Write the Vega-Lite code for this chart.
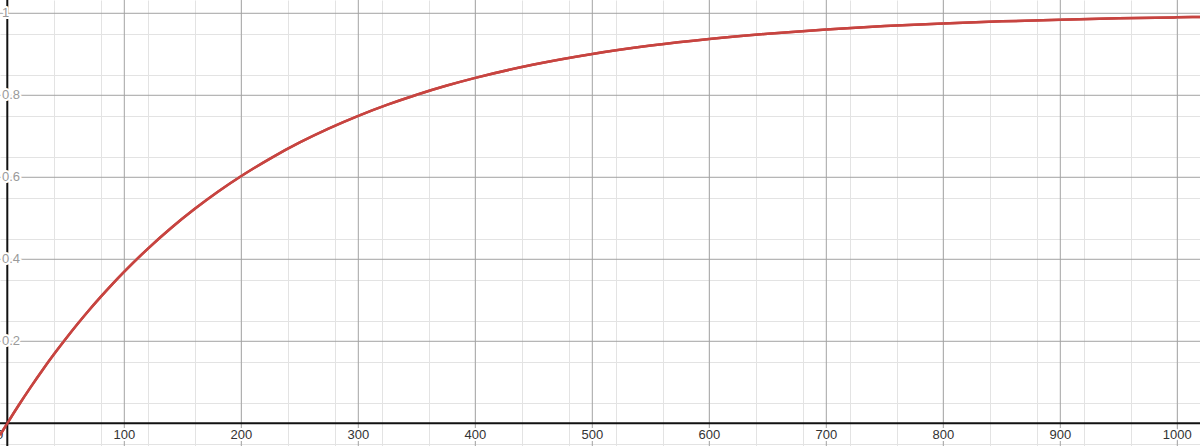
{
  "$schema": "https://vega.github.io/schema/vega-lite/v6.json",
  "width": 1200,
  "height": 446,
  "padding": 0,
  "autosize": {"type": "none"},
  "background": "white",
  "view": {"stroke": null},
  "datasets": {
    "curve": [
      {"x": -6.2, "y": -0.029},
      {"x": 0, "y": 0},
      {"x": 10, "y": 0.0451},
      {"x": 20, "y": 0.0882},
      {"x": 30, "y": 0.1294},
      {"x": 40, "y": 0.1687},
      {"x": 50, "y": 0.2062},
      {"x": 60, "y": 0.2421},
      {"x": 70, "y": 0.2763},
      {"x": 80, "y": 0.3089},
      {"x": 90, "y": 0.3401},
      {"x": 100, "y": 0.3699},
      {"x": 120, "y": 0.4255},
      {"x": 140, "y": 0.4762},
      {"x": 160, "y": 0.5224},
      {"x": 180, "y": 0.5646},
      {"x": 200, "y": 0.603},
      {"x": 225, "y": 0.6463},
      {"x": 250, "y": 0.6849},
      {"x": 275, "y": 0.7192},
      {"x": 300, "y": 0.7498},
      {"x": 325, "y": 0.7771},
      {"x": 350, "y": 0.8014},
      {"x": 375, "y": 0.8231},
      {"x": 400, "y": 0.8424},
      {"x": 450, "y": 0.8749},
      {"x": 500, "y": 0.9007},
      {"x": 550, "y": 0.9212},
      {"x": 600, "y": 0.9374},
      {"x": 650, "y": 0.9503},
      {"x": 700, "y": 0.9606},
      {"x": 750, "y": 0.9687},
      {"x": 800, "y": 0.9752},
      {"x": 850, "y": 0.9803},
      {"x": 900, "y": 0.9843},
      {"x": 950, "y": 0.9876},
      {"x": 1000, "y": 0.9901},
      {"x": 1020, "y": 0.991}
    ],
    "xmajor": [
      {"v": 100}, {"v": 200}, {"v": 300}, {"v": 400}, {"v": 500},
      {"v": 600}, {"v": 700}, {"v": 800}, {"v": 900}, {"v": 1000}
    ],
    "ymajor": [
      {"v": 0.2}, {"v": 0.4}, {"v": 0.6}, {"v": 0.8}, {"v": 1}
    ],
    "origin": [{"v": 0}]
  },
  "layer": [
    {
      "data": {"name": "curve"},
      "mark": {"type": "line", "color": "#c74440", "strokeWidth": 2.5, "clip": true, "interpolate": "monotone"},
      "encoding": {
        "x": {
          "field": "x",
          "type": "quantitative",
          "scale": {"domain": [-6.24, 1019.4], "nice": false, "zero": false},
          "axis": {
            "values": [0, 20, 40, 60, 80, 100, 120, 140, 160, 180, 200, 220, 240, 260, 280, 300, 320, 340, 360, 380, 400, 420, 440, 460, 480, 500, 520, 540, 560, 580, 600, 620, 640, 660, 680, 700, 720, 740, 760, 780, 800, 820, 840, 860, 880, 900, 920, 940, 960, 980, 1000],
            "grid": true,
            "labels": false,
            "ticks": false,
            "domain": false,
            "title": null,
            "gridOpacity": 1,
            "gridColor": "#e3e3e3"
          }
        },
        "y": {
          "field": "y",
          "type": "quantitative",
          "scale": {"domain": [-0.0554, 1.0324], "nice": false, "zero": false},
          "axis": {
            "values": [-0.05, 0, 0.05, 0.1, 0.15, 0.2, 0.25, 0.3, 0.35, 0.4, 0.45, 0.5, 0.55, 0.6, 0.65, 0.7, 0.75, 0.8, 0.85, 0.9, 0.95, 1],
            "grid": true,
            "labels": false,
            "ticks": false,
            "domain": false,
            "title": null,
            "gridOpacity": 1,
            "gridColor": "#e3e3e3"
          }
        }
      }
    },
    {
      "data": {"name": "xmajor"},
      "mark": {"type": "rule", "color": "#a3a3a3", "strokeWidth": 1},
      "encoding": {"x": {"field": "v", "type": "quantitative"}}
    },
    {
      "data": {"name": "ymajor"},
      "mark": {"type": "rule", "color": "#a3a3a3", "strokeWidth": 1},
      "encoding": {"y": {"field": "v", "type": "quantitative"}}
    },
    {
      "data": {"name": "origin"},
      "mark": {"type": "rule", "color": "#111", "strokeWidth": 2},
      "encoding": {"x": {"field": "v", "type": "quantitative"}}
    },
    {
      "data": {"name": "origin"},
      "mark": {"type": "rule", "color": "#111", "strokeWidth": 2},
      "encoding": {"y": {"field": "v", "type": "quantitative"}}
    },
    {
      "data": {"name": "xmajor"},
      "mark": {"type": "text", "font": "Liberation Sans", "fontSize": 13, "align": "center", "baseline": "middle", "dy": 11.5, "stroke": "white", "strokeWidth": 4, "strokeJoin": "round", "fill": "white"},
      "encoding": {
        "x": {"field": "v", "type": "quantitative"},
        "y": {"datum": 0},
        "text": {"field": "v", "type": "quantitative", "format": "d"}
      }
    },
    {
      "data": {"name": "xmajor"},
      "mark": {"type": "text", "font": "Liberation Sans", "fontSize": 13, "align": "center", "baseline": "middle", "dy": 11.5, "color": "#333"},
      "encoding": {
        "x": {"field": "v", "type": "quantitative"},
        "y": {"datum": 0},
        "text": {"field": "v", "type": "quantitative", "format": "d"}
      }
    },
    {
      "data": {"name": "origin"},
      "mark": {"type": "text", "font": "Liberation Sans", "fontSize": 13, "align": "right", "baseline": "middle", "dx": -4, "dy": 11.5, "color": "#333"},
      "encoding": {
        "x": {"field": "v", "type": "quantitative"},
        "y": {"field": "v", "type": "quantitative"},
        "text": {"field": "v", "type": "quantitative", "format": "d"}
      }
    },
    {
      "data": {"name": "ymajor"},
      "mark": {"type": "text", "font": "Liberation Sans", "fontSize": 13, "align": "left", "baseline": "middle", "dx": 2, "stroke": "white", "strokeWidth": 4, "strokeJoin": "round", "fill": "white"},
      "encoding": {
        "x": {"datum": -6.24},
        "y": {"field": "v", "type": "quantitative"},
        "text": {"field": "v", "type": "quantitative", "format": ".1~f"}
      }
    },
    {
      "data": {"name": "ymajor"},
      "mark": {"type": "text", "font": "Liberation Sans", "fontSize": 13, "align": "left", "baseline": "middle", "dx": 2, "color": "#9a9a9a"},
      "encoding": {
        "x": {"datum": -6.24},
        "y": {"field": "v", "type": "quantitative"},
        "text": {"field": "v", "type": "quantitative", "format": ".1~f"}
      }
    },
    {
      "data": {"name": "curve"},
      "mark": {"type": "line", "color": "#c74440", "strokeWidth": 2.5, "clip": true, "interpolate": "monotone"},
      "encoding": {
        "x": {"field": "x", "type": "quantitative"},
        "y": {"field": "y", "type": "quantitative"}
      }
    }
  ]
}
